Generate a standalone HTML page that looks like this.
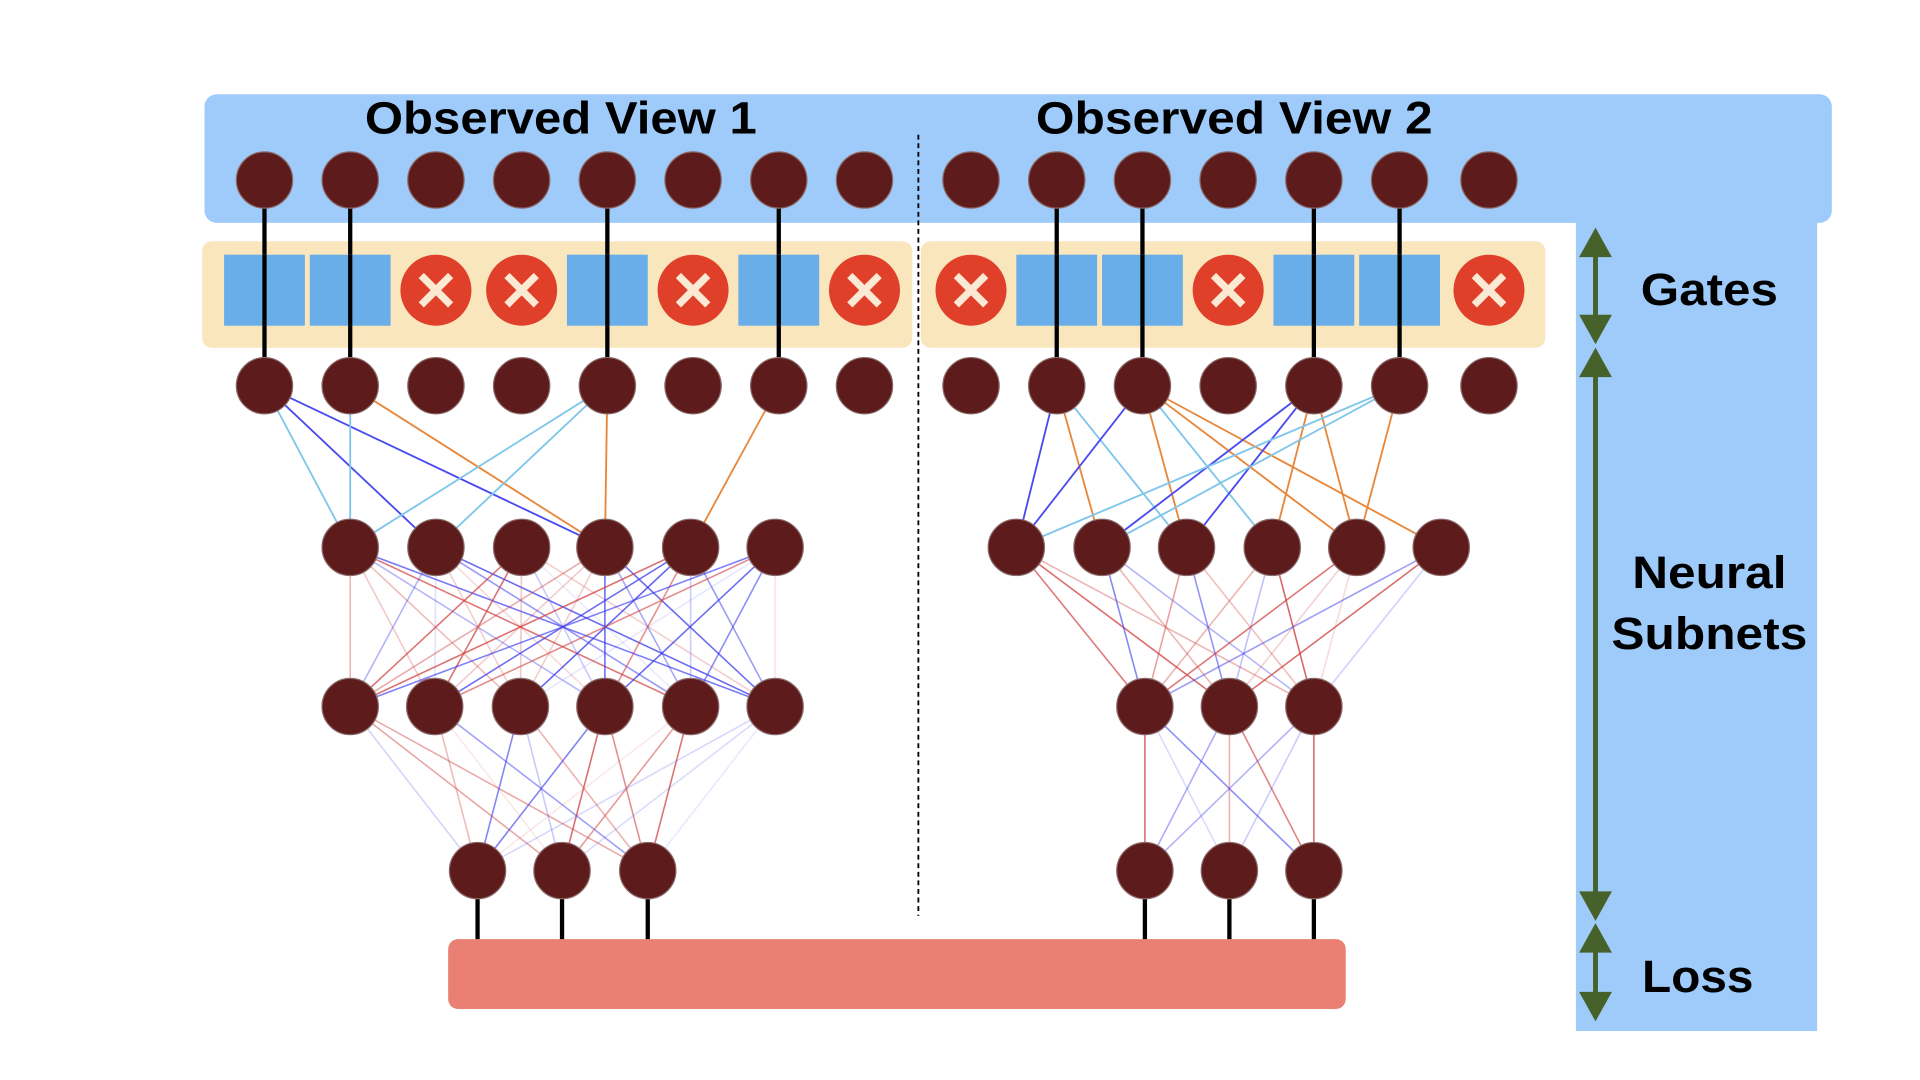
<!DOCTYPE html>
<html><head><meta charset="utf-8"><style>
html,body{margin:0;padding:0;background:#fff;width:1920px;height:1080px;overflow:hidden}
svg{display:block}
text{font-family:"Liberation Sans",sans-serif;font-weight:bold;fill:#000}
</style></head><body>
<svg id="s" width="1920" height="1080" viewBox="0 0 1568 882" xmlns="http://www.w3.org/2000/svg">
<rect x="167" y="77" width="1329" height="105" rx="10" fill="#9fcbfa"/>
<rect x="1287" y="175" width="197" height="667" fill="#9fcbfa"/>
<rect x="165" y="197" width="580" height="87" rx="8" fill="#f9e6bd"/>
<rect x="752" y="197" width="510" height="87" rx="8" fill="#f9e6bd"/>
<rect x="366" y="767" width="733" height="57" rx="8" fill="#e98073"/>
<line x1="750" y1="110" x2="750" y2="748" stroke="#000" stroke-width="1.5" stroke-dasharray="4,3"/>
<g id="lines"></g>
<g id="gates"></g>
<g id="nodes"></g>
<text x="298" y="109" font-size="37" textLength="320" lengthAdjust="spacingAndGlyphs">Observed View 1</text>
<text x="846" y="109" font-size="37" textLength="324" lengthAdjust="spacingAndGlyphs">Observed View 2</text>
<text x="1340" y="249" font-size="37" textLength="112" lengthAdjust="spacingAndGlyphs">Gates</text>
<text x="1333" y="480" font-size="37" textLength="126" lengthAdjust="spacingAndGlyphs">Neural</text>
<text x="1316" y="530" font-size="37" textLength="160" lengthAdjust="spacingAndGlyphs">Subnets</text>
<text x="1341" y="810" font-size="37" textLength="91" lengthAdjust="spacingAndGlyphs">Loss</text>
<g stroke="#46622a" stroke-width="4" fill="#46622a">
<line x1="1303" y1="200" x2="1303" y2="267"/><polygon points="1293,208 1313,208 1303,190"/><polygon points="1293,259 1313,259 1303,277"/>
<line x1="1303" y1="298" x2="1303" y2="738"/><polygon points="1293,306 1313,306 1303,288"/><polygon points="1293,730 1313,730 1303,748"/>
<line x1="1303" y1="768" x2="1303" y2="820"/><polygon points="1293,776 1313,776 1303,758"/><polygon points="1293,812 1313,812 1303,830"/>
</g>
</svg>
<script>
var NS="http://www.w3.org/2000/svg";
function el(p,t,a){var e=document.createElementNS(NS,t);for(var k in a)e.setAttribute(k,a[k]);p.appendChild(e);return e;}
var L=document.getElementById('lines'),G=document.getElementById('gates'),N=document.getElementById('nodes');
var r1a=[216,286,356,426,496,566,636,706],r1b=[793,863,933,1003,1073,1143,1216];
var ga=[1,1,0,0,1,0,1,0],gb=[0,1,1,0,1,1,0];
var r3a=[286,356,426,494,564,633],r3b=[830,900,969,1039,1108,1177];
var r4a=[286,355,425,494,564,633],r4b=[935,1004,1073];
var r5a=[390,459,529],r5b=[935,1004,1073];
var seed=7;function rnd(){seed=(seed*16807)%2147483647;return seed/2147483647;}
function gatesRow(xs,g){xs.forEach(function(x,i){
 if(g[i]){el(L,'line',{x1:x,y1:147,x2:x,y2:315,stroke:'#000','stroke-width':3.5});}
});}
gatesRow(r1a,ga);gatesRow(r1b,gb);
function gateShapes(xs,g){xs.forEach(function(x,i){
 if(g[i]){el(G,'rect',{x:x-33,y:208,width:66,height:58,fill:'#6aaee9'});el(G,'line',{x1:x,y1:208,x2:x,y2:266,stroke:'#000','stroke-width':3.5});}
 else{el(G,'circle',{cx:x,cy:237,r:29,fill:'#e0402a'});
 el(G,'path',{d:'M'+(x-12)+' 225 L'+(x+12)+' 249 M'+(x+12)+' 225 L'+(x-12)+' 249',stroke:'#fbe9d4','stroke-width':6});}
});}
gateShapes(r1a,ga);gateShapes(r1b,gb);
var cols=['#4a4aee','#e8873a','#7ec6ea'];
function sparse(src,g,dst,y1,y2){src.forEach(function(x,i){if(!g[i])return;
 dst.forEach(function(d){if(rnd()<0.55)el(L,'line',{x1:x,y1:y1,x2:d,y2:y2,stroke:cols[Math.floor(rnd()*3)],'stroke-width':1.5});});});}
sparse(r1a,ga,r3a,315,447);sparse(r1b,gb,r3b,315,447);
function dense(src,dst,y1,y2){src.forEach(function(x){dst.forEach(function(d){
 var c=rnd()<0.5?'#3a3aee':'#d04040';el(L,'line',{x1:x,y1:y1,x2:d,y2:y2,stroke:c,'stroke-width':1.3,'stroke-opacity':(0.1+rnd()*0.7).toFixed(2)});});});}
dense(r3a,r4a,447,577);dense(r3b,r4b,447,577);dense(r4a,r5a,577,711);dense(r4b,r5b,577,711);
[390,459,529,935,1004,1073].forEach(function(x){el(L,'line',{x1:x,y1:711,x2:x,y2:767,stroke:'#000','stroke-width':3.5});});
function nodes(xs,y){xs.forEach(function(x){el(N,'circle',{cx:x,cy:y,r:23,fill:'#5e1b1b',stroke:'#8a6a6a','stroke-width':1});});}
nodes(r1a,147);nodes(r1b,147);nodes(r1a,315);nodes(r1b,315);nodes(r3a,447);nodes(r3b,447);
nodes(r4a,577);nodes(r4b,577);nodes(r5a,711);nodes(r5b,711);
</script>
</body></html>
